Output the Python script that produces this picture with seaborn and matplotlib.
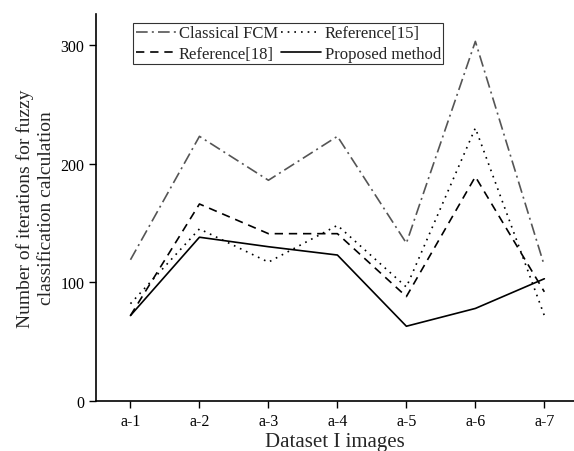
import seaborn as sns
import pandas as pd
import matplotlib.pyplot as plt

images = ["a-1", "a-2", "a-3", "a-4", "a-5", "a-6", "a-7"]
classical_fcm = [119, 223, 186, 223, 133, 303, 114]
reference_15 = [82, 145, 117, 148, 96, 230, 72]
reference_18 = [72, 166, 141, 141, 88, 189, 92]
proposed = [72, 138, 130, 123, 63, 78, 103]

series = [
    ("Classical FCM", classical_fcm, "#555555", (0, (7, 2.5, 1.2, 2.5))),
    ("Reference[15]", reference_15, "black", (0, (1, 3))),
    ("Reference[18]", reference_18, "black", (0, (5, 3.5))),
    ("Proposed method", proposed, "black", "-"),
]


def main():
    sns.set_style("ticks")
    plt.rcParams["font.family"] = ["Liberation Serif", "DejaVu Serif"]

    fig = plt.figure(figsize=(5.74, 4.52), dpi=100)
    ax = fig.add_axes([0.1672, 0.1106, 0.8328, 0.856])

    x = list(range(len(images)))
    for name, values, color, ls in series:
        df = pd.DataFrame({"x": x, "y": values})
        sns.lineplot(data=df, x="x", y="y", ax=ax, color=color,
                     linestyle=ls, linewidth=1.2, label=name)

    ax.set_xlim(-0.5, 6.43)
    ax.set_ylim(0, 326)
    ax.set_xticks(x)
    ax.set_xticklabels(images)
    ax.set_yticks([0, 100, 200, 300])
    ax.tick_params(axis="both", direction="out", length=5, width=1,
                   labelsize=11.5, colors="black")
    for side in ["top", "right"]:
        ax.spines[side].set_visible(False)
    for side in ["left", "bottom"]:
        ax.spines[side].set_linewidth(1.2)
        ax.spines[side].set_color("black")

    ax.set_xlabel("Dataset I images", fontsize=15, labelpad=2)
    ax.set_ylabel("Number of iterations for fuzzy\nclassification calculation",
                  fontsize=14, labelpad=4, linespacing=1.3)

    # row-wise order in the legend
    handles, labels = ax.get_legend_handles_labels()
    order = [0, 2, 1, 3]
    leg = ax.legend([handles[i] for i in order], [labels[i] for i in order],
                    ncol=2, loc="upper left", bbox_to_anchor=(133 / 574, 1 - 24 / 452),
                    bbox_transform=fig.transFigure, fontsize=12, frameon=True,
                    fancybox=False, edgecolor="black", handlelength=2.4,
                    handletextpad=0.2, columnspacing=0.2, labelspacing=0.25,
                    borderpad=0.15, borderaxespad=0)
    leg.get_frame().set_linewidth(0.8)

    fig.savefig("out.png", dpi=100)


if __name__ == "__main__":
    main()
